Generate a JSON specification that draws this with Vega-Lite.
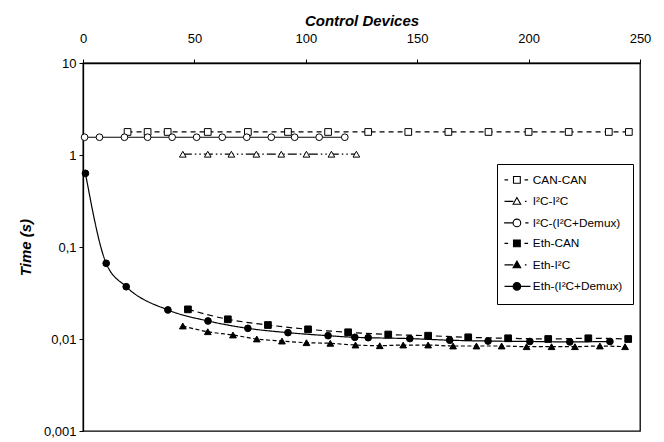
{
  "$schema": "https://vega.github.io/schema/vega-lite/v6.json",
  "width": 557,
  "height": 368,
  "autosize": {"type": "none"},
  "padding": {"left": 83, "top": 63, "right": 24, "bottom": 11},
  "background": "white",
  "config": {
    "view": {"stroke": "black", "strokeWidth": 1.3},
    "axis": {
      "labelFont": "Liberation Sans", "labelFontSize": 13, "labelColor": "black",
      "titleFont": "Liberation Sans", "titleFontSize": 15, "titleColor": "black",
      "titleFontWeight": "bold", "titleFontStyle": "italic",
      "domainColor": "black", "domainWidth": 1.3, "tickColor": "black", "tickWidth": 1, "grid": false
    }
  },
  "data": {"values": [
    {"s": "CAN-CAN", "x": 20, "y": 1.78}, {"s": "CAN-CAN", "x": 29, "y": 1.78}, {"s": "CAN-CAN", "x": 38, "y": 1.78},
    {"s": "CAN-CAN", "x": 56, "y": 1.78}, {"s": "CAN-CAN", "x": 74, "y": 1.78}, {"s": "CAN-CAN", "x": 92, "y": 1.78},
    {"s": "CAN-CAN", "x": 110, "y": 1.78}, {"s": "CAN-CAN", "x": 128, "y": 1.78}, {"s": "CAN-CAN", "x": 146, "y": 1.78},
    {"s": "CAN-CAN", "x": 164, "y": 1.78}, {"s": "CAN-CAN", "x": 182, "y": 1.78}, {"s": "CAN-CAN", "x": 200, "y": 1.78},
    {"s": "CAN-CAN", "x": 218, "y": 1.78}, {"s": "CAN-CAN", "x": 236, "y": 1.78}, {"s": "CAN-CAN", "x": 245, "y": 1.78},
    {"s": "I²C-I²C", "x": 44.8, "y": 1.02}, {"s": "I²C-I²C", "x": 56, "y": 1.02}, {"s": "I²C-I²C", "x": 66.6, "y": 1.02},
    {"s": "I²C-I²C", "x": 77.8, "y": 1.02}, {"s": "I²C-I²C", "x": 89, "y": 1.02}, {"s": "I²C-I²C", "x": 100.3, "y": 1.02},
    {"s": "I²C-I²C", "x": 111.5, "y": 1.02}, {"s": "I²C-I²C", "x": 122.7, "y": 1.02},
    {"s": "I²C-(I²C+Demux)", "x": 0.7, "y": 1.56}, {"s": "I²C-(I²C+Demux)", "x": 7.4, "y": 1.56}, {"s": "I²C-(I²C+Demux)", "x": 18.6, "y": 1.56},
    {"s": "I²C-(I²C+Demux)", "x": 29, "y": 1.56}, {"s": "I²C-(I²C+Demux)", "x": 40, "y": 1.56}, {"s": "I²C-(I²C+Demux)", "x": 51, "y": 1.56},
    {"s": "I²C-(I²C+Demux)", "x": 62.5, "y": 1.56}, {"s": "I²C-(I²C+Demux)", "x": 73.5, "y": 1.56}, {"s": "I²C-(I²C+Demux)", "x": 84.5, "y": 1.56},
    {"s": "I²C-(I²C+Demux)", "x": 95, "y": 1.56}, {"s": "I²C-(I²C+Demux)", "x": 106, "y": 1.56}, {"s": "I²C-(I²C+Demux)", "x": 117.5, "y": 1.56},
    {"s": "Eth-CAN", "x": 47.1, "y": 0.0210}, {"s": "Eth-CAN", "x": 65, "y": 0.01637}, {"s": "Eth-CAN", "x": 83, "y": 0.01419},
    {"s": "Eth-CAN", "x": 101, "y": 0.01274}, {"s": "Eth-CAN", "x": 119, "y": 0.01183}, {"s": "Eth-CAN", "x": 137, "y": 0.01119},
    {"s": "Eth-CAN", "x": 154.9, "y": 0.01086}, {"s": "Eth-CAN", "x": 172.9, "y": 0.01043}, {"s": "Eth-CAN", "x": 190.8, "y": 0.01018},
    {"s": "Eth-CAN", "x": 208.8, "y": 0.0100}, {"s": "Eth-CAN", "x": 226.8, "y": 0.01018}, {"s": "Eth-CAN", "x": 244.7, "y": 0.0100},
    {"s": "Eth-I²C", "x": 44.8, "y": 0.01384}, {"s": "Eth-I²C", "x": 56, "y": 0.0120}, {"s": "Eth-I²C", "x": 67.3, "y": 0.01105},
    {"s": "Eth-I²C", "x": 78, "y": 0.0100}, {"s": "Eth-I²C", "x": 89.3, "y": 0.0095}, {"s": "Eth-I²C", "x": 100.3, "y": 0.00912},
    {"s": "Eth-I²C", "x": 111, "y": 0.00898}, {"s": "Eth-I²C", "x": 122.3, "y": 0.0086}, {"s": "Eth-I²C", "x": 133.2, "y": 0.00845},
    {"s": "Eth-I²C", "x": 143.7, "y": 0.0086}, {"s": "Eth-I²C", "x": 154.9, "y": 0.0086}, {"s": "Eth-I²C", "x": 166.1, "y": 0.00839},
    {"s": "Eth-I²C", "x": 176.6, "y": 0.00839}, {"s": "Eth-I²C", "x": 187.9, "y": 0.00839}, {"s": "Eth-I²C", "x": 199.1, "y": 0.00825},
    {"s": "Eth-I²C", "x": 210.3, "y": 0.00825}, {"s": "Eth-I²C", "x": 220.8, "y": 0.00825}, {"s": "Eth-I²C", "x": 232, "y": 0.00839},
    {"s": "Eth-I²C", "x": 243.3, "y": 0.00825},
    {"s": "Eth-(I²C+Demux)", "x": 1.1, "y": 0.632}, {"s": "Eth-(I²C+Demux)", "x": 10.4, "y": 0.0665}, {"s": "Eth-(I²C+Demux)", "x": 19.4, "y": 0.037},
    {"s": "Eth-(I²C+Demux)", "x": 38.1, "y": 0.0207}, {"s": "Eth-(I²C+Demux)", "x": 56.1, "y": 0.0157}, {"s": "Eth-(I²C+Demux)", "x": 74, "y": 0.01306},
    {"s": "Eth-(I²C+Demux)", "x": 92, "y": 0.01172}, {"s": "Eth-(I²C+Demux)", "x": 110, "y": 0.01086}, {"s": "Eth-(I²C+Demux)", "x": 122, "y": 0.01043},
    {"s": "Eth-(I²C+Demux)", "x": 128, "y": 0.01033}, {"s": "Eth-(I²C+Demux)", "x": 146.7, "y": 0.0101}, {"s": "Eth-(I²C+Demux)", "x": 164.6, "y": 0.0097},
    {"s": "Eth-(I²C+Demux)", "x": 181.8, "y": 0.0095}, {"s": "Eth-(I²C+Demux)", "x": 200.6, "y": 0.0094}, {"s": "Eth-(I²C+Demux)", "x": 218.5, "y": 0.0093},
    {"s": "Eth-(I²C+Demux)", "x": 236.5, "y": 0.0094}
  ]},
  "encoding": {
    "x": {"field": "x", "type": "quantitative",
      "scale": {"domain": [0, 250], "nice": false, "zero": false},
      "axis": {"orient": "top", "title": "Control Devices", "values": [0, 50, 100, 150, 200, 250],
        "tickSize": 4, "labelPadding": 14, "titlePadding": 4, "labelFlush": false}},
    "y": {"field": "y", "type": "quantitative",
      "scale": {"type": "log", "domain": [0.001, 10], "nice": false},
      "axis": {"title": "Time (s)", "values": [0.001, 0.01, 0.1, 1, 10],
        "labelExpr": "replace(toString(datum.value), '.', ',')",
        "tickSize": 4, "labelPadding": 3, "titlePadding": 10}}
  },
  "layer": [
    {
      "mark": {"type": "line", "color": "black", "strokeWidth": 1.2, "interpolate": "monotone"},
      "encoding": {
        "detail": {"field": "s"},
        "order": {"field": "x", "type": "quantitative"},
        "strokeDash": {
          "condition": [
            {"test": "datum.s === 'CAN-CAN'", "value": [5, 4]},
            {"test": "datum.s === 'I²C-I²C'", "value": [9, 3, 1.5, 3, 1.5, 3]},
            {"test": "datum.s === 'Eth-CAN'", "value": [6, 4]},
            {"test": "datum.s === 'Eth-I²C'", "value": [4, 2.5]}
          ],
          "value": [1, 0]}
      }
    },
    {
      "mark": {"type": "point", "filled": true, "stroke": "black", "strokeWidth": 1, "size": 45, "opacity": 1},
      "encoding": {
        "fill": {"condition": {"test": "indexof(datum.s, 'Eth') == 0", "value": "black"}, "value": "white"},
        "shape": {"field": "s", "type": "nominal",
          "scale": {"domain": ["CAN-CAN", "I²C-I²C", "I²C-(I²C+Demux)", "Eth-CAN", "Eth-I²C", "Eth-(I²C+Demux)"],
            "range": ["square", "triangle-up", "circle", "square", "triangle-up", "circle"]},
          "legend": null}
      }
    },
    {
      "transform": [{"filter": "datum.x < -1000"}],
      "mark": {"type": "point", "filled": true, "stroke": "black", "strokeWidth": 1, "opacity": 1},
      "encoding": {
        "shape": {"field": "s", "type": "nominal",
          "scale": {"domain": ["CAN-CAN", "I²C-I²C", "I²C-(I²C+Demux)", "Eth-CAN", "Eth-I²C", "Eth-(I²C+Demux)"],
            "range": [
              "M-3.1,0H-2.2M1.9,0H2.8M-0.85,-0.85H0.85V0.85H-0.85Z",
              "M-3.1,0H-0.9M2,0H2.4M0,-0.95L0.95,0.7H-0.95Z",
              "M-3.2,0H-0.95M2.1,0H2.9M-0.95,0A0.95,0.95,0,1,0,0.95,0A0.95,0.95,0,1,0,-0.95,0Z",
              "M-3.1,0H-2.2M1.9,0H2.8M-0.85,-0.85H0.85V0.85H-0.85Z",
              "M-3.1,0H-0.9M2,0H2.4M0,-0.95L0.95,0.7H-0.95Z",
              "M-3.1,0H3.4M-0.95,0A0.95,0.95,0,1,0,0.95,0A0.95,0.95,0,1,0,-0.95,0Z"
            ]},
          "legend": {
            "orient": "none", "legendX": 414, "legendY": 101, "title": null,
            "padding": 10, "strokeColor": "black", "fillColor": "white",
            "symbolSize": 64, "symbolStrokeWidth": 1, "symbolStrokeColor": "black", "symbolOffset": 4,
            "labelFont": "Liberation Sans", "labelFontSize": 11.8, "labelColor": "black", "labelOffset": 10,
            "rowPadding": 7.5,
            "encoding": {
              "symbols": {
                "fill": {"value": {"expr": "indexof(datum.value, 'Eth') == 0 ? 'black' : 'white'"}},
                "stroke": {"value": "black"},
                "strokeWidth": {"value": 1.1},
                "strokeOpacity": {"value": 1}
              }
            }
          }}
      }
    }
  ],
  "resolve": {"scale": {"shape": "independent"}, "legend": {"shape": "independent"}}
}
